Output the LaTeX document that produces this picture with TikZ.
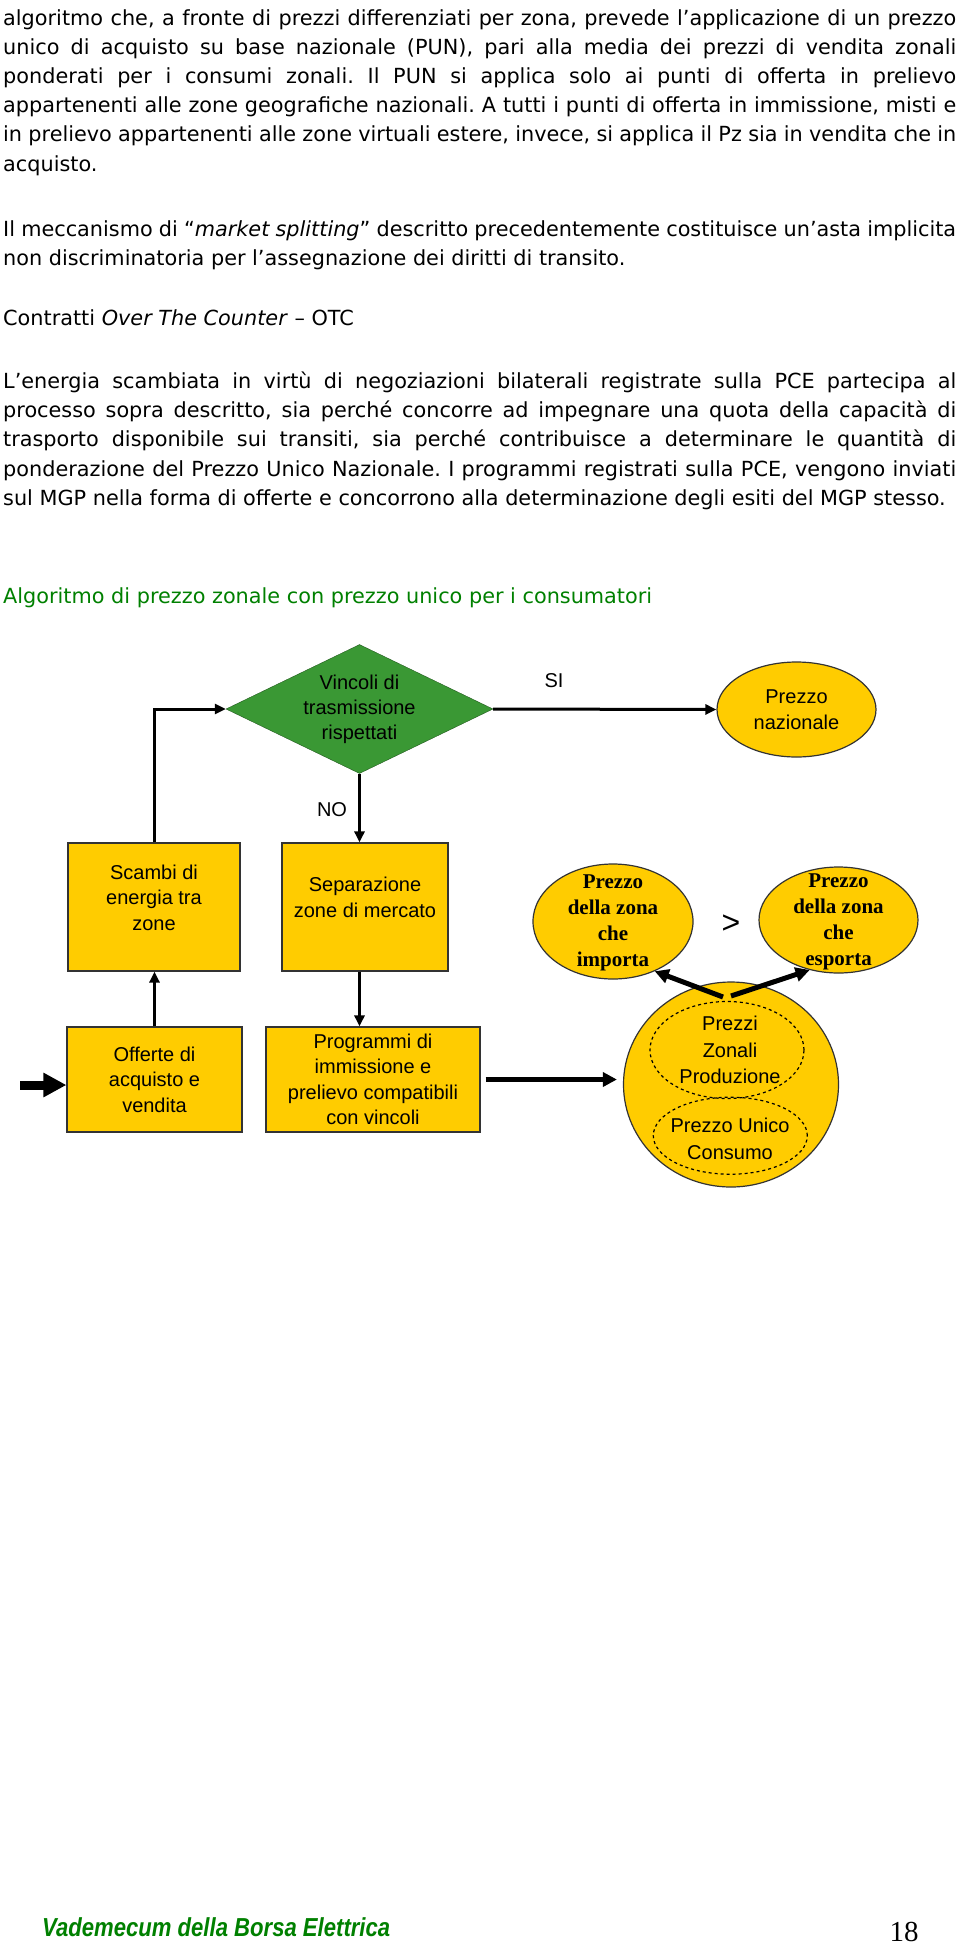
\documentclass[tikz,border=0pt]{standalone}
\usepackage{fontspec}
\setmainfont{DejaVu Sans}
\newfontfamily\arialfont{Liberation Sans}
\newfontfamily\timesfont{Liberation Serif}
\newfontfamily\narrowfont[FakeStretch=0.85]{Liberation Sans}
\usetikzlibrary{shapes.geometric, arrows.meta, positioning}
\definecolor{gold}{RGB}{255,204,0}
\definecolor{leaf}{RGB}{58,152,52}
\definecolor{heading}{RGB}{0,128,0}
\frenchspacing
\tikzset{
    para/.style={anchor=base west, inner sep=0pt, text width=953pt, align=justify, font=\fontsize{20.8}{29.2}\selectfont},
    box/.style={rectangle, draw=black!80, line width=1.2pt, fill=gold, inner sep=0pt, align=center, font=\arialfont\fontsize{20}{25.5}\selectfont},
    bubble/.style={ellipse, draw=black!80, line width=1.2pt, fill=gold, inner sep=0pt},
    decision/.style={diamond, aspect=2.07, draw=leaf!60!black, fill=leaf, minimum width=267pt, minimum height=129pt, inner sep=0pt, align=center, font=\arialfont\fontsize{20}{25}\selectfont},
    boxtext/.style={inner sep=0pt, align=center, font=\arialfont\fontsize{20}{26.5}\selectfont},
    serifbold/.style={inner sep=0pt, align=center, font=\timesfont\bfseries\fontsize{21}{25.8}\selectfont},
    flowlabel/.style={inner sep=0pt, font=\arialfont\fontsize{20}{24}\selectfont},
    arrow/.style={-{Triangle[length=11pt, width=10pt]}, line width=3pt},
    thickarrow/.style={-{Triangle[length=14pt, width=14pt]}, line width=5pt},
    fatarrow/.style={-{Triangle[length=23pt, width=23pt]}, line width=9pt}
}

\begin{document}
\begin{tikzpicture}[x=1pt, y=-1pt]
\useasboundingbox (0,0) rectangle (960,1944);

% testo della pagina
\node[para] (p1) at (3,25) {algoritmo che, a fronte di prezzi differenziati per zona, prevede l’applicazione di un prezzo\linebreak
unico di acquisto su base nazionale (PUN), pari alla media dei prezzi di vendita zonali\linebreak
ponderati per i consumi zonali. Il PUN si applica solo ai punti di offerta in prelievo\linebreak
appartenenti alle zone geografiche nazionali. A tutti i punti di offerta in immissione, misti e\linebreak
in prelievo appartenenti alle zone virtuali estere, invece, si applica il Pz sia in vendita che in\linebreak
acquisto.};
\node[para] (p2) at (3,236) {Il meccanismo di “\textit{market splitting}” descritto precedentemente costituisce un’asta implicita\linebreak
non discriminatoria per l’assegnazione dei diritti di transito.};
\node[para] (otc) at (3,325) {Contratti \textit{Over The Counter} – OTC};
\node[para] (p3) at (3,388.5) {L’energia scambiata in virtù di negoziazioni bilaterali registrate sulla PCE partecipa al\linebreak
processo sopra descritto, sia perché concorre ad impegnare una quota della capacità di\linebreak
trasporto disponibile sui transiti, sia perché contribuisce a determinare le quantità di\linebreak
ponderazione del Prezzo Unico Nazionale. I programmi registrati sulla PCE, vengono inviati\linebreak
sul MGP nella forma di offerte e concorrono alla determinazione degli esiti del MGP stesso.};
\node[para, text=heading] (titolo) at (3,603) {Algoritmo di prezzo zonale con prezzo unico per i consumatori};

% diagramma
\node[decision] (vincoli) at (359.5,709) {Vincoli di\\trasmissione\\rispettati};
\node[bubble, minimum width=159pt, minimum height=95pt, align=center, font=\arialfont\fontsize{20}{26}\selectfont] (nazionale) at (796.5,709.5) {Prezzo\\nazionale};
\node[flowlabel] (si) at (554,681) {SI};
\node[flowlabel] (no) at (332,810) {NO};

\node[box, minimum width=172pt, minimum height=128pt] (scambi) at (154,907) {Scambi di\\energia tra\\zone\\[-6pt]};
\node[box, minimum width=166pt, minimum height=128pt] (separazione) at (365,907) {Separazione\\zone di mercato\\[-6pt]};
\node[box, minimum width=175pt, minimum height=105pt] (offerte) at (154.5,1079.5) {Offerte di\\acquisto e\\vendita};
\node[box, minimum width=214pt, minimum height=105pt] (programmi) at (373,1079.5) {Programmi di\\immissione e\\prelievo compatibili\\con vincoli};

\node[bubble, minimum width=160pt, minimum height=115pt] (importa) at (613,921.5) {};
\node[serifbold] (importa testo) at (613,923) {Prezzo\\della zona\\che\\importa};
\node[flowlabel, font=\arialfont\fontsize{32}{32}\selectfont] (maggiore) at (731,924) {>};
\node[bubble, minimum width=159pt, minimum height=106pt] (esporta) at (838.5,920) {};
\node[serifbold] (esporta testo) at (838.5,922) {Prezzo\\della zona\\che\\esporta};

\node[bubble, minimum width=215pt, minimum height=205pt] (zone) at (731,1084.5) {};
\node[ellipse, draw, dashed, line width=1.2pt, minimum width=154pt, minimum height=97pt, inner sep=0pt] (zonali) at (727,1050) {};
\node[ellipse, draw, dashed, line width=1.2pt, minimum width=154pt, minimum height=77pt, inner sep=0pt] (unico) at (730.3,1135.7) {};
\node[boxtext] (zonali testo) at (730,1050) {Prezzi\\Zonali\\Produzione};
\node[boxtext] (unico testo) at (730,1139) {Prezzo Unico\\Consumo};

\draw[arrow] (vincoli.east) -- (nazionale.west);
\draw[arrow] (scambi.north) |- (vincoli.west);
\draw[arrow] (vincoli.south) -- (vincoli.south |- separazione.north);
\draw[arrow] (vincoli.south |- separazione.south) -- (vincoli.south |- programmi.north);
\draw[arrow] (offerte.north) -- (offerte.north |- scambi.south);

\coordinate (ingresso) at (20,1085);
\draw[fatarrow] (ingresso) -- (ingresso -| offerte.west);
\draw[thickarrow, shorten <=5pt, shorten >=6pt] (programmi.east) -- (programmi.east -| zone.west);

\coordinate (forca sx) at (723,997);
\coordinate (forca dx) at (731,996);
\draw[thickarrow] (forca sx) -- (importa.-50);
\draw[thickarrow] (forca dx) -- (esporta.-120);

% pie di pagina
\node[anchor=base west, inner sep=0pt, text=heading, font=\narrowfont\bfseries\itshape\fontsize{26}{26}\selectfont] (piede) at (42,1936) {Vademecum della Borsa Elettrica};
\node[anchor=base, inner sep=0pt, font=\timesfont\fontsize{29}{29}\selectfont] (pagina) at (904,1941) {18};
\end{tikzpicture}
\end{document}
